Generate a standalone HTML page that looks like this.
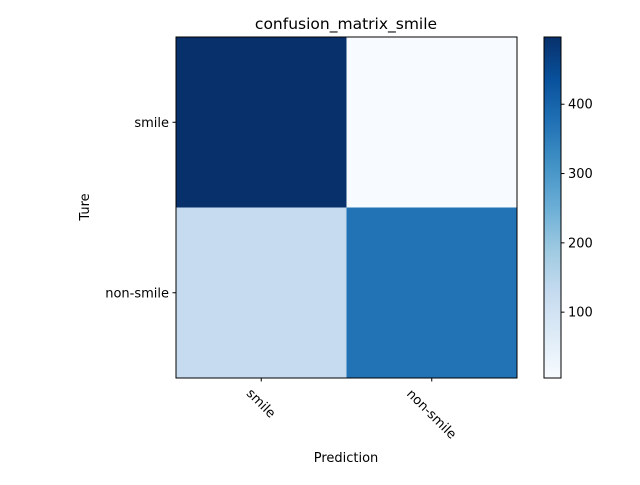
<!DOCTYPE html>
<html><head><meta charset="utf-8"><style>
body{margin:0;background:#fff}
text{font-family:"DejaVu Sans","Liberation Sans",sans-serif;font-size:13px;fill:#000}
</style></head><body>
<svg id="chart" width="640" height="480" xmlns="http://www.w3.org/2000/svg">
<defs>
<linearGradient id="blues" x1="0" y1="1" x2="0" y2="0">
<stop offset="0" stop-color="#f7fbff"/><stop offset="0.125" stop-color="#deebf7"/><stop offset="0.25" stop-color="#c6dbef"/><stop offset="0.375" stop-color="#9ecae1"/><stop offset="0.5" stop-color="#6baed6"/><stop offset="0.625" stop-color="#4292c6"/><stop offset="0.75" stop-color="#2171b5"/><stop offset="0.875" stop-color="#08519c"/><stop offset="1" stop-color="#08306b"/>
</linearGradient>
</defs>
<text x="346" y="29" text-anchor="middle" style="font-size:15.5px">confusion_matrix_smile</text>
<g id="cells"></g>
<rect x="176" y="37" width="341" height="341" fill="none" stroke="#000" stroke-width="1"/>
<g id="ticks"></g>
<text x="346" y="462" text-anchor="middle">Prediction</text>
<text transform="translate(89,207) rotate(-90)" text-anchor="middle">Ture</text>
<rect x="544" y="37" width="17" height="341" fill="url(#blues)" stroke="#000" stroke-width="1"/>
<g id="cbticks"></g>
</svg>
<script>
const categories = ["smile", "non-smile"];
const matrixValues = [[497, 5], [128, 372]];
const colorbarTicks = [100, 200, 300, 400];
const vmin = 5, vmax = 497;

const NS = "http://www.w3.org/2000/svg";
const stops = ["#f7fbff","#deebf7","#c6dbef","#9ecae1","#6baed6","#4292c6","#2171b5","#08519c","#08306b"];
function hex(c){return [1,3,5].map(i=>parseInt(c.substr(i,2),16));}
function blues(t){t=Math.max(0,Math.min(1,t));const p=t*8,i=Math.min(7,Math.floor(p)),f=p-i;const a=hex(stops[i]),b=hex(stops[i+1]);return "rgb("+a.map((v,k)=>Math.round(v+(b[k]-v)*f)).join(",")+")";}
const x0=176,y0=37,W=341,H=341;
const cw=W/categories.length, ch=H/categories.length;
const xc=j=>x0+cw*(j+0.5), yc=i=>y0+ch*(i+0.5);
const cbY=v=>378-(v-vmin)/(vmax-vmin)*341;
const cells=document.getElementById("cells"), ticks=document.getElementById("ticks"), cb=document.getElementById("cbticks");
function mk(tag,attrs,parent,txt){const e=document.createElementNS(NS,tag);for(const k in attrs)e.setAttribute(k,attrs[k]);if(txt!==undefined)e.textContent=txt;parent.appendChild(e);return e;}
matrixValues.forEach((row,i)=>row.forEach((v,j)=>{
  const r=mk("rect",{x:x0+cw*j,y:y0+ch*i,width:cw+0.5,height:ch+0.5,fill:blues((v-vmin)/(vmax-vmin))},cells);
  
  
}));
categories.forEach((c,i)=>{
  mk("line",{x1:x0,x2:x0-3.5,y1:yc(i),y2:yc(i),stroke:"#000"},ticks);
  const t=mk("text",{x:x0-7,y:yc(i)+4.5,"text-anchor":"end"},ticks,c);
  
  
  mk("line",{x1:xc(i),x2:xc(i),y1:378,y2:381.5,stroke:"#000"},ticks);
  const len=c.length*7.6;
  const cx=xc(i), cy=385+(len+13)*0.354;
  const tx=mk("text",{x:cx,y:cy+4.5,"text-anchor":"middle",transform:"rotate(45 "+cx+" "+cy+")"},ticks,c);
  
  
});
colorbarTicks.forEach(v=>{
  const y=cbY(v);
  mk("line",{x1:561,x2:564.5,y1:y,y2:y,stroke:"#000"},cb);
  const t=mk("text",{x:568,y:y+4.5},cb,String(v));
  
  
});
</script>
</body></html>
